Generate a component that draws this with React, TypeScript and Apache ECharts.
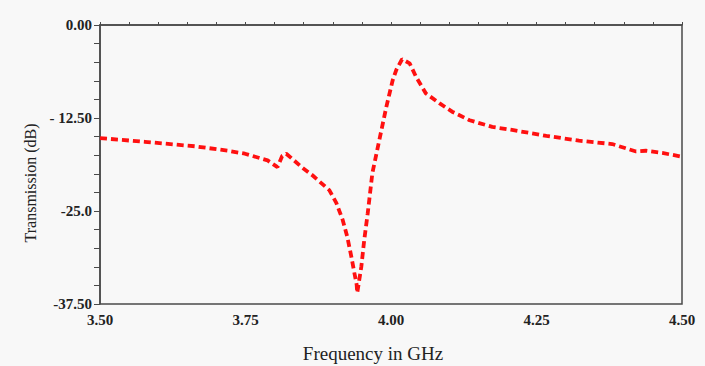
import React, { useEffect, useRef } from "react";
import * as echarts from "echarts";

// Frequency sweep (GHz) and measured transmission (dB)
const frequencyGHz = [
  3.5, 3.577, 3.663, 3.72, 3.749, 3.788, 3.805, 3.813, 3.82, 3.848, 3.865,
  3.894, 3.906, 3.917, 3.925, 3.932, 3.937, 3.941, 3.942, 3.949, 3.954, 3.96,
  3.968, 3.979, 3.992, 4.003, 4.009, 4.019, 4.032, 4.043, 4.06, 4.083, 4.105,
  4.135, 4.174, 4.208, 4.267, 4.323, 4.38, 4.421, 4.438, 4.466, 4.5,
];
const transmissionDB = [
  -15.2, -15.7, -16.3, -16.9, -17.3, -18.2, -19.1, -17.6, -17.3, -19.2, -20.2,
  -22.2, -23.9, -26.2, -28.5, -31.2, -33.3, -34.9, -36.0, -32.5, -28.9, -25.3,
  -19.9, -15.8, -11.0, -7.4, -6.05, -4.6, -5.15, -6.95, -9.2, -10.5, -11.65,
  -12.8, -13.7, -14.1, -14.9, -15.55, -16.0, -17.0, -16.9, -17.2, -17.7,
];

// Y tick labels as printed on the axis
const yTickLabels: Record<string, string> = {
  "0": "0.00",
  "-12.5": "- 12.50",
  "-25": "-25.0",
  "-37.5": "-37.50",
};

const xAxisTitle = "Frequency in GHz";
const yAxisTitle = "Transmission (dB)";

const BG = "#f8f8f8";
const AXIS = "#4a4a4a";
const SERIF = "Liberation Serif";

export default function App() {
  const ref = useRef<HTMLDivElement>(null);

  useEffect(() => {
    if (!ref.current) return;
    const chart = echarts.init(ref.current, undefined, { renderer: "svg" });

    const data = frequencyGHz.map((f, i) => [f, transmissionDB[i]]);

    chart.setOption({
      animation: false,
      backgroundColor: BG,
      grid: {
        left: 100,
        right: 23,
        top: 25,
        bottom: 62,
        show: true,
        borderColor: AXIS,
        borderWidth: 1.5,
        backgroundColor: BG,
      },
      xAxis: {
        type: "value",
        min: 3.5,
        max: 4.5,
        interval: 0.05,
        axisLine: { show: true, lineStyle: { color: AXIS, width: 1.5 } },
        axisTick: { show: true, inside: true, length: 3, lineStyle: { color: AXIS } },
        splitLine: { show: false },
        axisLabel: {
          margin: 8,
          color: "#222",
          fontFamily: SERIF,
          fontWeight: "bold",
          fontSize: 15,
          showMinLabel: true,
          showMaxLabel: true,
          formatter: (v: number) => {
            const q = v * 4;
            return Math.abs(q - Math.round(q)) < 1e-6 ? v.toFixed(2) : "";
          },
        },
      },
      yAxis: {
        type: "value",
        min: -37.5,
        max: 0,
        interval: 2.5,
        axisLine: { show: true, lineStyle: { color: AXIS, width: 1.5 } },
        axisTick: { show: true, inside: false, length: 6, lineStyle: { color: AXIS } },
        splitLine: { show: false },
        axisLabel: {
          margin: 8,
          color: "#222",
          fontFamily: SERIF,
          fontWeight: "bold",
          fontSize: 15,
          showMinLabel: true,
          showMaxLabel: true,
          formatter: (v: number) => {
            const key = String(Math.round(v * 10) / 10);
            return yTickLabels[key] ?? "";
          },
        },
      },
      graphic: [
        {
          type: "text",
          x: 373,
          y: 353,
          style: {
            text: xAxisTitle,
            fill: "#222",
            font: `19px ${SERIF}`,
            align: "center",
            verticalAlign: "middle",
          },
          z: 10,
        },
        {
          type: "text",
          x: 30,
          y: 183,
          rotation: Math.PI / 2,
          style: {
            text: yAxisTitle,
            fill: "#222",
            font: `16px ${SERIF}`,
            align: "center",
            verticalAlign: "middle",
          },
          z: 10,
        },
      ],
      series: [
        {
          type: "line",
          data,
          showSymbol: false,
          smooth: false,
          lineStyle: {
            color: "#ff1010",
            width: 3.8,
            type: [7, 4],
          },
        },
      ],
    });

    return () => chart.dispose();
  }, []);

  return (
    <div
      ref={ref}
      style={{ position: "fixed", left: 0, top: 0, width: 705, height: 366 }}
    />
  );
}
